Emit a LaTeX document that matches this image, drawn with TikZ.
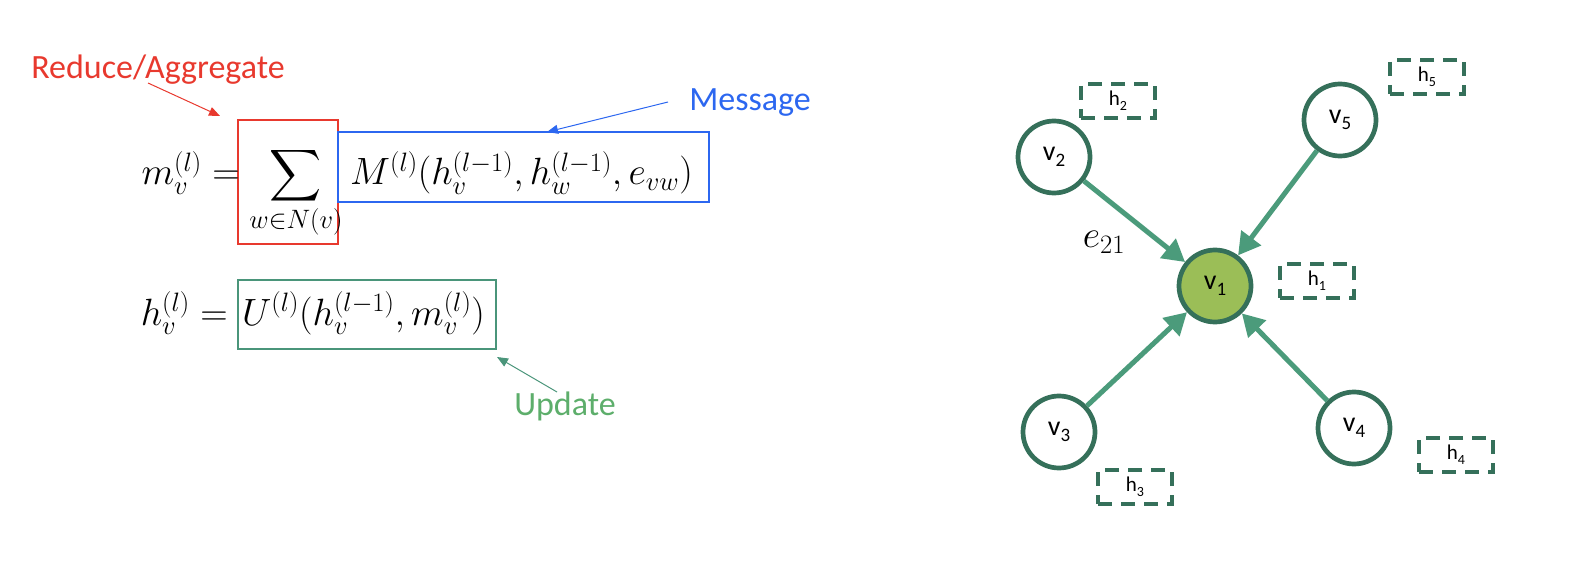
\RequirePackage{fix-cm}
\documentclass[tikz,border=0pt]{standalone}
\usepackage[no-math]{fontspec}
\setmainfont{Carlito}
\usepackage{amsmath}
\usepackage{graphicx}
\usetikzlibrary{arrows.meta}
\definecolor{redc}{HTML}{E8392E}
\definecolor{bluec}{HTML}{2C67F0}
\definecolor{greent}{HTML}{5DAE6B}
\definecolor{greenb}{HTML}{4A957A}
\definecolor{nodestroke}{HTML}{35705A}
\definecolor{edgec}{HTML}{4B9B7B}
\definecolor{vonefill}{HTML}{9BBE57}
\newcommand{\vlab}[1]{v\raisebox{-0.22em}{\fontsize{19}{21}\selectfont #1}}
\newcommand{\hlab}[1]{h\raisebox{-0.22em}{\fontsize{14}{16}\selectfont #1}}
\newcommand{\bigsumop}{\mathop{\vcenter{\hbox{\scalebox{1.45}{$\displaystyle\sum$}}}}}
\tikzset{
  eqtext/.style={font=\fontsize{38}{44}\selectfont, inner sep=0pt},
  anntext/.style={font=\fontsize{34}{38}\selectfont, inner sep=0pt},
  eqbox/.style={draw, line width=1.5pt, inner sep=0pt},
  annarrow/.style={line width=1pt, -{Triangle[length=11pt,width=9pt]}},
  gnode/.style={circle, draw=nodestroke, line width=4.7pt, fill=white, minimum size=72pt, inner sep=0pt, font=\fontsize{28}{30}\selectfont},
  hbox/.style={draw=nodestroke, line width=4pt, dash pattern=on 14pt off 9pt, minimum width=74pt, minimum height=34pt, inner sep=0pt, font=\fontsize{21}{24}\selectfont},
  edge/.style={draw=edgec, line width=5pt, -{Triangle[length=22pt,width=24pt]}, shorten >=0pt},
}
\begin{document}
\begin{tikzpicture}[x=1pt,y=-1pt]
\useasboundingbox (0,0) rectangle (1588,572);
% ---- left: equations
\node[eqbox, draw=redc, minimum width=100pt, minimum height=124pt] (sumbox) at (288,182) {};
\node[eqbox, draw=bluec, minimum width=371pt, minimum height=70pt] (msgbox) at (523.5,167) {};
\node[eqbox, draw=greenb, minimum width=258pt, minimum height=69pt] (updbox) at (367,314.5) {};
\node[eqtext, anchor=base east] (lhsone) at (240,185) {$m_v^{(l)}=$};
\node[eqtext, anchor=base] (sumsign) at (296,185) {$\displaystyle\bigsumop\limits_{w\in N(v)}$};
\node[eqtext, anchor=base west] (msgtext) at (350,185) {$M^{(l)}(h_v^{(l-1)},h_w^{(l-1)},e_{vw})$};
\node[eqtext, anchor=base east] (lhstwo) at (228,325) {$h_v^{(l)}=$};
\node[eqtext, anchor=base west] (updtext) at (242,325) {$U^{(l)}(h_v^{(l-1)},m_v^{(l)})$};
% annotations
\node[anntext, text=redc] (redlab) at (158,70) {Reduce/Aggregate};
\node[anntext, text=bluec] (bluelab) at (750,103) {Message};
\node[anntext, text=greent] (greenlab) at (565,406) {Update};
\coordinate (redstart) at (148,83);
\coordinate (redend) at (220,116);
\coordinate (bluestart) at (668,102);
\coordinate (blueend) at (547,132);
\coordinate (greenstart) at (557,392);
\coordinate (greenend) at (497,357);
\draw[annarrow, redc] (redstart) -- (redend);
\draw[annarrow, bluec] (bluestart) -- (blueend);
\draw[annarrow, greenb] (greenstart) -- (greenend);
% ---- right: graph
\node[gnode, fill=vonefill] (v1) at (1215,286) {\vlab{1}};
\node[gnode] (v2) at (1054,157) {\vlab{2}};
\node[gnode] (v3) at (1059,432) {\vlab{3}};
\node[gnode] (v4) at (1354,428) {\vlab{4}};
\node[gnode] (v5) at (1340,120) {\vlab{5}};
\node[hbox] (h1) at (1317,281) {\hlab{1}};
\node[hbox] (h2) at (1118,101) {\hlab{2}};
\node[hbox] (h3) at (1135,487) {\hlab{3}};
\node[hbox] (h4) at (1456,455) {\hlab{4}};
\node[hbox] (h5) at (1427,77) {\hlab{5}};
\draw[edge] (v2) -- (v1);
\draw[edge] (v5) -- (v1);
\draw[edge] (v3) -- (v1);
\draw[edge] (v4) -- (v1);
\node[eqtext] (elab) at (1104,242) {$e_{21}$};
\end{tikzpicture}
\end{document}
